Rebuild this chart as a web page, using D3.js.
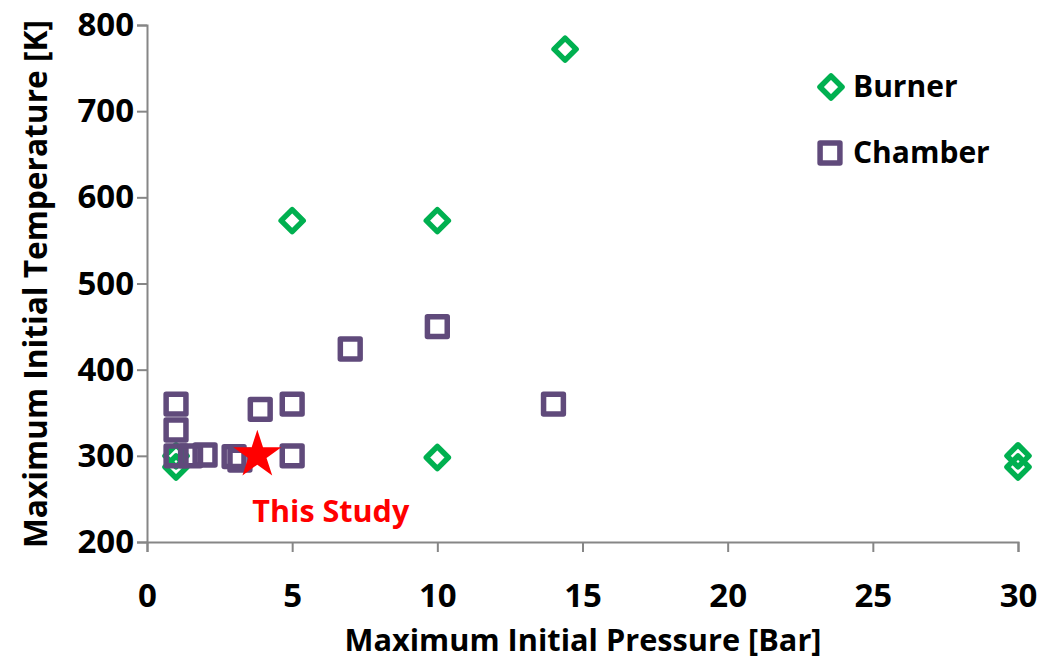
<!DOCTYPE html>
<html>
<head>
<meta charset="utf-8">
<script src="https://cdn.jsdelivr.net/npm/d3@7"></script>
<style>
  body { margin: 0; background: #fff; }
  text { font-family: "Liberation Sans Narrow", "Open Sans", sans-serif; font-weight: bold; }
</style>
</head>
<body>
<div id="plot"></div>
<script>
const burnerColor = "#00B050",
      chamberColor = "#604A7B",
      axisColor = "#868686";

// burner data [pressure bar, temperature K]
const burnerP = [14.4, 5, 10, 10, 30, 30, 1, 1];
const burnerT = [772, 573, 573, 298, 300, 287, 300, 287];

// chamber data
const chamberP = [10, 7, 1, 1, 1, 1.5, 2, 3, 3.2, 3.9, 5, 5, 14];
const chamberT = [450, 424, 360, 330, 300, 300, 301, 299, 295, 354, 360, 300, 360];

// this study
const studyP = [3.8];
const studyT = [301];

const xTicks = [0, 5, 10, 15, 20, 25, 30];
const yTicks = [200, 300, 400, 500, 600, 700, 800];

const W = 1042, H = 660;
const margin = {top: 25, right: 24, bottom: 118, left: 147},
      width = W - margin.left - margin.right,
      height = H - margin.top - margin.bottom;

const svg = d3.select("#plot")
  .append("svg")
    .attr("width", W)
    .attr("height", H);

const g = svg.append("g")
    .attr("transform", "translate(" + margin.left + "," + margin.top + ")");

const xScale = d3.scaleLinear().domain([0, 30]).range([0, width]),
      yScale = d3.scaleLinear().domain([200, 800]).range([height, 0]);

// axes
const xAxis = g.append("g")
  .attr("transform", "translate(0," + height + ")")
  .call(d3.axisBottom(xScale).tickValues(xTicks).tickSize(10).tickPadding(32));

const yAxis = g.append("g")
  .call(d3.axisLeft(yScale).tickValues(yTicks).tickSize(10).tickPadding(3));

[xAxis, yAxis].forEach(a => {
  a.select(".domain").attr("stroke", axisColor).attr("stroke-width", 2);
  a.selectAll(".tick line").attr("stroke", axisColor).attr("stroke-width", 2);
  a.selectAll(".tick text")
    .attr("fill", "#000")
    .style("font-size", "33px");
});

// axis titles
svg.append("text")
  .attr("text-anchor", "middle")
  .attr("x", 583)
  .attr("y", 651)
  .attr("textLength", 477)
  .attr("lengthAdjust", "spacingAndGlyphs")
  .style("font-size", "31px")
  .text("Maximum Initial Pressure [Bar]");

svg.append("text")
  .attr("text-anchor", "middle")
  .attr("transform", "translate(47,284) rotate(-90)")
  .attr("textLength", 528)
  .attr("lengthAdjust", "spacingAndGlyphs")
  .style("font-size", "32px")
  .text("Maximum Initial Temperature [K]");

// symbols
const diamond = d3.symbol().type(d3.symbolDiamond2).size(310)();
const square = d3.symbol().type(d3.symbolSquare2).size(500)();
const star = d3.symbol().type(d3.symbolStar).size(720)();

// burner
g.selectAll(".burner")
  .data(burnerP.map((p, i) => [p, burnerT[i]]))
  .join("path")
    .attr("class", "burner")
    .attr("d", diamond)
    .attr("transform", d => "translate(" + xScale(d[0]) + "," + yScale(d[1]) + ")")
    .attr("fill", "none")
    .attr("stroke", burnerColor)
    .attr("stroke-width", 5.5)
    .attr("stroke-linejoin", "round");

// chamber
g.selectAll(".chamber")
  .data(chamberP.map((p, i) => [p, chamberT[i]]))
  .join("path")
    .attr("class", "chamber")
    .attr("d", square)
    .attr("transform", d => "translate(" + xScale(d[0]) + "," + yScale(d[1]) + ")")
    .attr("fill", "none")
    .attr("stroke", chamberColor)
    .attr("stroke-width", 5.5)
    .attr("stroke-linejoin", "round");

// this study
g.selectAll(".study")
  .data(studyP.map((p, i) => [p, studyT[i]]))
  .join("path")
    .attr("class", "study")
    .attr("d", star)
    .attr("transform", d => "translate(" + xScale(d[0]) + "," + yScale(d[1]) + ")")
    .attr("fill", "#FF0000");

g.append("text")
  .attr("x", xScale(studyP[0]) - 5)
  .attr("y", yScale(studyT[0]) + 67)
  .attr("fill", "#FF0000")
  .attr("textLength", 157)
  .attr("lengthAdjust", "spacingAndGlyphs")
  .style("font-size", "30px")
  .text("This Study");

// legend
const legend = svg.append("g");
legend.append("path")
  .attr("d", diamond)
  .attr("transform", "translate(831,87)")
  .attr("fill", "none")
  .attr("stroke", burnerColor)
  .attr("stroke-width", 5.5)
  .attr("stroke-linejoin", "round");
legend.append("text")
  .attr("x", 853).attr("y", 97)
  .style("font-size", "30px")
  .text("Burner");

legend.append("path")
  .attr("d", square)
  .attr("transform", "translate(830,153)")
  .attr("fill", "none")
  .attr("stroke", chamberColor)
  .attr("stroke-width", 5.5)
  .attr("stroke-linejoin", "round");
legend.append("text")
  .attr("x", 853).attr("y", 163)
  .style("font-size", "30px")
  .text("Chamber");
</script>
</body>
</html>
